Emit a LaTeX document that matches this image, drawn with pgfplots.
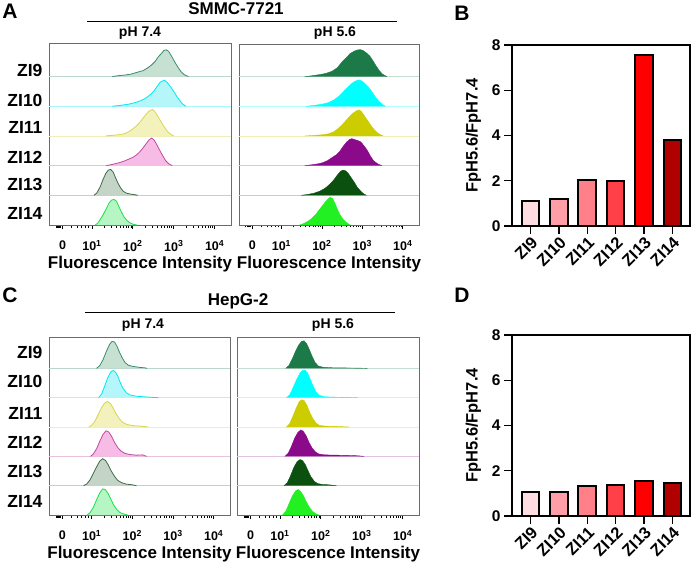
\documentclass[border=0pt]{standalone}
\usepackage{pgfplots}
\pgfplotsset{compat=1.18}
\usepackage{fontspec}
\setmainfont{Liberation Sans}

\definecolor{ln9}{HTML}{3C8C6C}  \definecolor{fl9}{HTML}{C6E0D2}
\definecolor{ln10}{HTML}{00E8F0} \definecolor{fl10}{HTML}{B4F6FA}
\definecolor{ln11}{HTML}{D6D650} \definecolor{fl11}{HTML}{F4F2BC}
\definecolor{ln12}{HTML}{C04A9E} \definecolor{fl12}{HTML}{F6BCE6}
\definecolor{ln13}{HTML}{3E6B48} \definecolor{fl13}{HTML}{C4D4C6}
\definecolor{ln14}{HTML}{18E048} \definecolor{fl14}{HTML}{B6F6C4}
\definecolor{dk9}{HTML}{1B7A47}
\definecolor{dk10}{HTML}{00FFFF}
\definecolor{dk11}{HTML}{CCCC00}
\definecolor{dk12}{HTML}{8A0A8A}
\definecolor{dk13}{HTML}{0B500F}
\definecolor{dk14}{HTML}{22F022}
\definecolor{br1}{HTML}{FFDCE0}
\definecolor{br2}{HTML}{FF9EA6}
\definecolor{br3}{HTML}{FF8088}
\definecolor{br4}{HTML}{FF4048}
\definecolor{br5}{HTML}{FF0000}
\definecolor{br6}{HTML}{B00000}

\newcommand{\fs}[1]{\fontsize{#1}{#1}\selectfont\bfseries}

\pgfplotsset{
  flow/.style={
    scale only axis,
    xmin=-0.05, xmax=4.4, ymin=0,
    axis line style={draw=black!58, line width=0.9pt},
    tick pos=left, tick align=outside,
    xtick={0.28,1,2,3,4},
    xticklabels={0,10\textsuperscript{1},10\textsuperscript{2},10\textsuperscript{3},10\textsuperscript{4}},
    minor xtick={0.12,0.15,0.18,0.21,0.24,0.5,0.64,0.75,0.84,0.92,
      1.301,1.477,1.602,1.699,1.778,1.845,1.903,1.954,
      2.301,2.477,2.602,2.699,2.778,2.845,2.903,2.954,
      3.301,3.477,3.602,3.699,3.778,3.845,3.903,3.954},
    x tick style={black, line width=0.8pt},
    major tick length=4pt, minor tick length=2.5pt,
    xticklabel style={font=\fs{12.5}, yshift=-8pt},
    xlabel={Fluorescence Intensity},
    xlabel style={font=\fs{17}, yshift=2pt},
    y tick style={draw=none},
    yticklabel style={font=\fs{17.5}, xshift=1pt},
  },
  sh/.style={y filter/.expression={y+#1}},
  h74/.style 2 args={draw=#1, fill=#2, line width=0.8pt},
  h56/.style={draw=#1, fill=#1, line width=0.4pt},
  base/.style={draw=#1, line width=0.7pt},
  ratio/.style={
    scale only axis, width=178pt, height=181pt,
    xmin=-0.65, xmax=5.62, ymin=0, ymax=8,
    axis line style={line width=1.4pt},
    tick pos=left, tick align=outside,
    major tick length=8pt, tick style={black, line width=1.4pt},
    xtick={0,1,2,3,4,5},
    xticklabels={ZI9,ZI10,ZI11,ZI12,ZI13,ZI14},
    xticklabel style={font=\fs{16.5}, rotate=45, anchor=north east, inner sep=1pt},
    ytick={0,2,4,6,8}, yticklabels={0,2,4,6,8},
    yticklabel style={font=\fs{15.5}},
    ylabel={FpH5.6/FpH7.4}, ylabel style={font=\fs{16.5}, yshift=4pt},
  },
  rbar/.style={ybar, bar width=0.62, bar shift=0pt, draw=black, line width=2pt, fill=#1},
}

\begin{document}
\begin{tikzpicture}
\useasboundingbox (0pt,0pt) rectangle (699pt,-569pt);

% ---------- A, pH 7.4 ----------
\begin{axis}[flow, at={(49pt,-43pt)}, anchor=north west, width=182pt, height=182pt, ymax=6.13,
  ytick={0.40,1.35,2.29,3.27,4.21,5.2}, yticklabels={ZI14,ZI13,ZI12,ZI11,ZI10,ZI9}]
\addplot[base=ln9!35] coordinates {(-0.05,5) (4.4,5)};
\addplot[base=ln10!35] coordinates {(-0.05,4) (4.4,4)};
\addplot[base=ln11!40] coordinates {(-0.05,3) (4.4,3)};
\addplot[base=ln12!35] coordinates {(-0.05,2) (4.4,2)};
\addplot[base=black!20] coordinates {(-0.05,1) (4.4,1)};
\addplot[h74={ln9}{fl9}, sh=5] coordinates {(1.50,0) (1.65,0.03) (1.80,0.05) (1.95,0.08) (2.05,0.12) (2.15,0.16) (2.25,0.2) (2.35,0.28) (2.45,0.38) (2.55,0.52) (2.62,0.66) (2.70,0.78) (2.76,0.88) (2.82,0.9) (2.88,0.84) (2.95,0.68) (3.02,0.5) (3.10,0.32) (3.18,0.16) (3.26,0.06) (3.36,0)};
\addplot[h74={ln10}{fl10}, sh=4] coordinates {(1.50,0) (1.70,0.03) (1.90,0.07) (2.05,0.12) (2.20,0.19) (2.32,0.28) (2.42,0.38) (2.52,0.52) (2.60,0.68) (2.66,0.8) (2.72,0.85) (2.78,0.87) (2.84,0.8) (2.92,0.66) (3.00,0.5) (3.08,0.32) (3.16,0.17) (3.22,0.07) (3.30,0)};
\addplot[h74={ln11}{fl11}, sh=3] coordinates {(1.34,0) (1.50,0.02) (1.65,0.04) (1.78,0.07) (1.90,0.14) (2.00,0.24) (2.08,0.33) (2.16,0.44) (2.24,0.58) (2.32,0.72) (2.40,0.84) (2.48,0.89) (2.55,0.80) (2.62,0.64) (2.68,0.5) (2.76,0.32) (2.84,0.16) (2.92,0.06) (3.00,0)};
\addplot[h74={ln12}{fl12}, sh=2] coordinates {(1.35,0) (1.50,0.04) (1.67,0.1) (1.80,0.16) (1.92,0.23) (2.00,0.28) (2.08,0.35) (2.16,0.45) (2.24,0.58) (2.32,0.73) (2.40,0.87) (2.46,0.93) (2.52,0.86) (2.58,0.72) (2.64,0.56) (2.72,0.36) (2.80,0.17) (2.88,0.06) (2.96,0)};
\addplot[h74={ln13}{fl13}, sh=1] coordinates {(1.05,0) (1.12,0.08) (1.20,0.28) (1.27,0.53) (1.34,0.74) (1.40,0.85) (1.46,0.87) (1.52,0.78) (1.58,0.58) (1.64,0.4) (1.70,0.25) (1.77,0.13) (1.85,0.07) (1.95,0.04) (2.05,0.02) (2.12,0)};
\addplot[h74={ln14}{fl14}, sh=0] coordinates {(1.08,0) (1.14,0.06) (1.20,0.18) (1.28,0.36) (1.35,0.55) (1.42,0.74) (1.48,0.84) (1.54,0.86) (1.60,0.8) (1.66,0.62) (1.72,0.44) (1.78,0.28) (1.85,0.16) (1.93,0.07) (2.02,0.02) (2.10,0)};
\end{axis}

% ---------- A, pH 5.6 ----------
\begin{axis}[flow, at={(239pt,-44pt)}, anchor=north west, width=180pt, height=181pt, ymax=6.1, ytick=\empty]
\addplot[base=dk9!25] coordinates {(-0.05,5) (4.4,5)};
\addplot[base=dk10!30] coordinates {(-0.05,4) (4.4,4)};
\addplot[base=dk11!30] coordinates {(-0.05,3) (4.4,3)};
\addplot[base=dk12!25] coordinates {(-0.05,2) (4.4,2)};
\addplot[base=black!20] coordinates {(-0.05,1) (4.4,1)};
\addplot[h56=dk9, sh=5] coordinates {(1.58,0) (1.75,0.03) (1.95,0.07) (2.10,0.11) (2.25,0.18) (2.38,0.3) (2.50,0.5) (2.60,0.64) (2.70,0.78) (2.80,0.86) (2.88,0.9) (2.95,0.91) (3.02,0.88) (3.10,0.8) (3.18,0.7) (3.26,0.54) (3.34,0.36) (3.42,0.2) (3.50,0.08) (3.61,0)};
\addplot[h56=dk10, sh=4] coordinates {(1.60,0) (1.80,0.03) (2.00,0.07) (2.15,0.12) (2.30,0.22) (2.42,0.34) (2.52,0.48) (2.62,0.62) (2.72,0.75) (2.80,0.83) (2.88,0.88) (2.94,0.89) (3.02,0.82) (3.10,0.72) (3.18,0.6) (3.26,0.44) (3.34,0.28) (3.42,0.15) (3.50,0.06) (3.57,0)};
\addplot[h56=dk11, sh=3] coordinates {(1.58,0) (1.80,0.02) (2.00,0.04) (2.15,0.07) (2.28,0.13) (2.40,0.25) (2.50,0.38) (2.60,0.53) (2.70,0.68) (2.78,0.78) (2.86,0.85) (2.92,0.88) (2.98,0.82) (3.06,0.66) (3.14,0.5) (3.22,0.34) (3.30,0.2) (3.38,0.1) (3.45,0.04) (3.52,0)};
\addplot[h56=dk12, sh=2] coordinates {(1.58,0) (1.75,0.03) (1.90,0.06) (2.02,0.1) (2.14,0.17) (2.26,0.28) (2.36,0.37) (2.44,0.48) (2.52,0.64) (2.60,0.78) (2.68,0.88) (2.74,0.91) (2.80,0.88) (2.88,0.85) (2.96,0.8) (3.04,0.67) (3.12,0.52) (3.20,0.32) (3.28,0.16) (3.38,0.06) (3.48,0)};
\addplot[h56=dk13, sh=1] coordinates {(1.49,0) (1.65,0.03) (1.80,0.07) (1.95,0.14) (2.08,0.24) (2.20,0.38) (2.30,0.53) (2.38,0.68) (2.46,0.81) (2.52,0.85) (2.58,0.83) (2.65,0.74) (2.72,0.6) (2.80,0.44) (2.88,0.26) (2.96,0.14) (3.03,0.05) (3.10,0)};
\addplot[h56=dk14, sh=0] coordinates {(1.45,0) (1.55,0.05) (1.65,0.12) (1.75,0.22) (1.85,0.36) (1.95,0.54) (2.05,0.72) (2.13,0.85) (2.20,0.93) (2.26,0.9) (2.32,0.74) (2.38,0.54) (2.44,0.36) (2.52,0.2) (2.60,0.09) (2.70,0)};
\end{axis}

% ---------- B ----------
\begin{axis}[ratio, at={(512pt,-45pt)}, anchor=north west]
\addplot[rbar=br1] coordinates {(0,1.12)};
\addplot[rbar=br2] coordinates {(1,1.21)};
\addplot[rbar=br3] coordinates {(2,2.04)};
\addplot[rbar=br4] coordinates {(3,2.01)};
\addplot[rbar=br5] coordinates {(4,7.57)};
\addplot[rbar=br6] coordinates {(5,3.82)};
\end{axis}

% ---------- C, pH 7.4 ----------
\begin{axis}[flow, at={(49pt,-337pt)}, anchor=north west, width=181pt, height=178pt, ymax=6.07,
  ytick={0.47,1.48,2.47,3.45,4.55,5.55}, yticklabels={ZI14,ZI13,ZI12,ZI11,ZI10,ZI9}]
\addplot[base=ln9!35] coordinates {(-0.05,5) (4.4,5)};
\addplot[base=ln10!35] coordinates {(-0.05,4) (4.4,4)};
\addplot[base=ln11!40] coordinates {(-0.05,3) (4.4,3)};
\addplot[base=ln12!35] coordinates {(-0.05,2) (4.4,2)};
\addplot[base=black!20] coordinates {(-0.05,1) (4.4,1)};
\addplot[h74={ln9}{fl9}, sh=5] coordinates {(1.12,0) (1.20,0.1) (1.28,0.3) (1.36,0.58) (1.44,0.82) (1.50,0.92) (1.56,0.9) (1.62,0.76) (1.68,0.56) (1.75,0.36) (1.82,0.2) (1.90,0.11) (2.00,0.07) (2.10,0.05) (2.20,0.03) (2.30,0.02) (2.36,0)};
\addplot[h74={ln10}{fl10}, sh=4] coordinates {(1.17,0) (1.24,0.12) (1.32,0.4) (1.40,0.7) (1.47,0.88) (1.53,0.93) (1.58,0.88) (1.64,0.74) (1.70,0.52) (1.77,0.32) (1.85,0.17) (1.95,0.09) (2.10,0.05) (2.30,0.03) (2.50,0.01) (2.64,0)};
\addplot[h74={ln11}{fl11}, sh=3] coordinates {(0.93,0) (1.00,0.06) (1.08,0.2) (1.16,0.42) (1.24,0.66) (1.32,0.82) (1.39,0.87) (1.46,0.8) (1.53,0.64) (1.60,0.45) (1.68,0.28) (1.76,0.16) (1.86,0.09) (2.00,0.05) (2.20,0.03) (2.39,0)};
\addplot[h74={ln12}{fl12}, sh=2] coordinates {(0.97,0) (1.04,0.08) (1.12,0.26) (1.20,0.52) (1.28,0.75) (1.35,0.87) (1.42,0.83) (1.49,0.68) (1.56,0.48) (1.64,0.3) (1.72,0.18) (1.82,0.1) (1.95,0.06) (2.10,0.04) (2.25,0.05) (2.35,0)};
\addplot[h74={ln13}{fl13}, sh=1] coordinates {(0.80,0) (0.88,0.06) (0.96,0.2) (1.04,0.42) (1.12,0.64) (1.20,0.84) (1.27,0.92) (1.34,0.86) (1.41,0.7) (1.48,0.5) (1.56,0.32) (1.64,0.18) (1.74,0.1) (1.86,0.05) (2.00,0.03) (2.10,0)};
\addplot[h74={ln14}{fl14}, sh=0] coordinates {(0.89,0) (0.96,0.08) (1.04,0.26) (1.12,0.52) (1.20,0.76) (1.27,0.89) (1.33,0.87) (1.40,0.74) (1.47,0.54) (1.54,0.34) (1.62,0.18) (1.70,0.08) (1.80,0.03) (1.88,0)};
\end{axis}

% ---------- C, pH 5.6 ----------
\begin{axis}[flow, at={(237pt,-337pt)}, anchor=north west, width=182pt, height=178pt, ymax=6.07, ytick=\empty]
\addplot[base=dk9!25] coordinates {(-0.05,5) (4.4,5)};
\addplot[base=dk10!30] coordinates {(-0.05,4) (4.4,4)};
\addplot[base=dk11!30] coordinates {(-0.05,3) (4.4,3)};
\addplot[base=dk12!25] coordinates {(-0.05,2) (4.4,2)};
\addplot[base=black!20] coordinates {(-0.05,1) (4.4,1)};
\addplot[h56=dk9, sh=5] coordinates {(1.14,0) (1.22,0.1) (1.30,0.32) (1.38,0.58) (1.46,0.8) (1.53,0.92) (1.59,0.94) (1.65,0.85) (1.72,0.64) (1.79,0.4) (1.86,0.2) (1.94,0.08) (2.05,0.04) (2.30,0.02) (2.60,0.015) (2.90,0.01) (3.14,0)};
\addplot[h56=dk10, sh=4] coordinates {(1.16,0) (1.24,0.1) (1.32,0.34) (1.40,0.6) (1.48,0.82) (1.55,0.93) (1.61,0.94) (1.67,0.86) (1.74,0.64) (1.81,0.4) (1.88,0.2) (1.96,0.08) (2.10,0.03) (2.40,0.015) (2.70,0.01) (2.90,0)};
\addplot[h56=dk11, sh=3] coordinates {(1.16,0) (1.24,0.12) (1.32,0.38) (1.40,0.66) (1.47,0.86) (1.53,0.93) (1.59,0.9) (1.66,0.74) (1.73,0.5) (1.80,0.3) (1.88,0.14) (1.96,0.06) (2.10,0.03) (2.40,0.02) (2.70,0)};
\addplot[h56=dk12, sh=2] coordinates {(1.12,0) (1.20,0.1) (1.28,0.34) (1.36,0.62) (1.44,0.82) (1.51,0.9) (1.57,0.86) (1.64,0.7) (1.71,0.48) (1.78,0.3) (1.86,0.16) (1.95,0.08) (2.10,0.05) (2.40,0.04) (2.70,0.03) (2.90,0.02) (3.06,0)};
\addplot[h56=dk13, sh=1] coordinates {(1.10,0) (1.18,0.1) (1.26,0.34) (1.34,0.62) (1.42,0.82) (1.49,0.89) (1.55,0.86) (1.62,0.72) (1.69,0.5) (1.76,0.3) (1.84,0.15) (1.92,0.07) (2.05,0.04) (2.20,0.03) (2.38,0)};
\addplot[h56=dk14, sh=0] coordinates {(1.06,0) (1.14,0.12) (1.22,0.38) (1.30,0.64) (1.38,0.82) (1.45,0.87) (1.51,0.8) (1.58,0.64) (1.65,0.44) (1.72,0.26) (1.80,0.12) (1.88,0.04) (1.95,0)};
\end{axis}

% ---------- D ----------
\begin{axis}[ratio, at={(512pt,-335pt)}, anchor=north west]
\addplot[rbar=br1] coordinates {(0,1.08)};
\addplot[rbar=br2] coordinates {(1,1.08)};
\addplot[rbar=br3] coordinates {(2,1.33)};
\addplot[rbar=br4] coordinates {(3,1.37)};
\addplot[rbar=br5] coordinates {(4,1.56)};
\addplot[rbar=br6] coordinates {(5,1.47)};
\end{axis}

% ---------- headings ----------
\node[font=\fs{21}] at (10pt,-11pt) {A};
\node[font=\fs{21}] at (462pt,-13pt) {B};
\node[font=\fs{21}] at (10pt,-295pt) {C};
\node[font=\fs{21}] at (462pt,-295pt) {D};
\node[font=\fs{17}] at (236pt,-9pt) {SMMC-7721};
\draw[line width=1.4pt] (87pt,-21.5pt) -- (397pt,-21.5pt);
\node[font=\fs{14}] at (140pt,-33pt) {pH 7.4};
\node[font=\fs{14}] at (335pt,-33pt) {pH 5.6};
\node[font=\fs{17}] at (238pt,-301pt) {HepG-2};
\draw[line width=1.4pt] (85pt,-312.5pt) -- (395pt,-312.5pt);
\node[font=\fs{14}] at (143pt,-325pt) {pH 7.4};
\node[font=\fs{14}] at (333pt,-325pt) {pH 5.6};
\end{tikzpicture}
\end{document}
